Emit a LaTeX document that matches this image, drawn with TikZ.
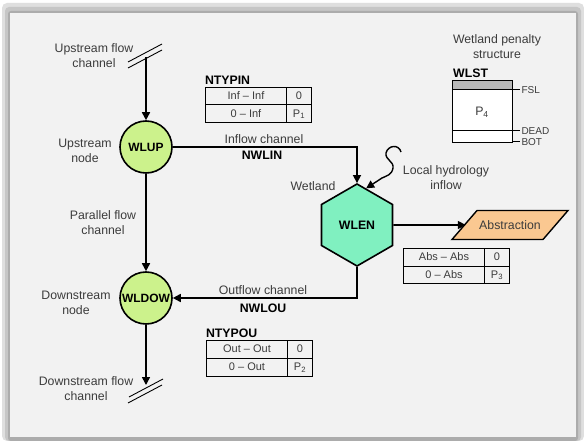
\documentclass[tikz,border=0pt]{standalone}
\usepackage{fontspec}
\setmainfont{Liberation Sans}
\usepackage{array}
\usetikzlibrary{arrows.meta,shapes.geometric}

\definecolor{nodegreen}{RGB}{204,242,140}
\definecolor{wetgreen}{RGB}{128,240,192}
\definecolor{absorange}{RGB}{250,200,145}
\definecolor{panelgray}{RGB}{242,242,242}
\definecolor{txtgray}{RGB}{60,60,60}

\newcommand{\pentab}[4]{\renewcommand{\arraystretch}{1.3}\setlength{\arrayrulewidth}{1pt}%
  \begin{tabular}{|>{\color{txtgray}}wc{68pt}|>{\color{txtgray}}wc{12pt}|}\hline #1 & #2\\\hline #3 & #4\\\hline\end{tabular}}

\begin{document}
\begin{tikzpicture}[x=1pt,y=-1pt,>={Triangle[length=8pt,width=8pt]},
  font=\fontsize{12.3}{15}\selectfont,
  txt/.style={text=txtgray,align=center,inner sep=0pt},
  lbl/.style={font=\fontsize{12.3}{15}\selectfont\bfseries,inner sep=0pt},
  flow/.style={line width=1.6pt},
  jn/.style={circle,draw,line width=1.6pt,fill=nodegreen,minimum size=52pt,inner sep=0pt,font=\fontsize{12}{15}\selectfont\bfseries},
  tbl/.style={inner sep=0pt,font=\fontsize{11}{13}\selectfont},
  sm/.style={text=txtgray,inner sep=1pt,anchor=west,font=\fontsize{10}{11}\selectfont}]
  \useasboundingbox (0,0) rectangle (584,441);
  % frame with shadow
  \fill[white] (0,0) rectangle (584,441);
  \fill[gray!25,rounded corners=5pt] (2,3) rectangle (584,441);
  \fill[gray!45,rounded corners=4pt] (5,7) rectangle (581,441);
  \fill[gray!65,rounded corners=3pt] (8,11) rectangle (578,441);
  \fill[panelgray] (10,13) rectangle (576,437);

  \node[jn] (wlup) at (146,147) {WLUP};
  \node[jn] (wldow) at (146,298) {WLDOW};
  \node[regular polygon,regular polygon sides=6,shape border rotate=30,minimum size=82pt,inner sep=0pt,
    draw,line width=1.6pt,fill=wetgreen,font=\fontsize{12.3}{15}\selectfont\bfseries] (wlen) at (357,225) {WLEN};
  \filldraw[line width=1.4pt,fill=absorange] (452,239.5) -- (477,210.5) -- (568,210.5) -- (543,239.5) -- cycle;
  \node[text=txtgray,minimum width=88pt,minimum height=29pt,inner sep=0pt] (abs) at (510,225) {Abstraction};

  \coordinate (upin) at (146,57);
  \coordinate (dnout) at (146,385);
  \coordinate (lh) at (401,152);

  \draw[flow,->] (upin) -- (wlup);
  \draw[flow,->] (wlup) -- (wldow);
  \draw[flow,->] (wldow) -- (dnout);
  \draw[flow,->] (wlup) -| (wlen);
  \draw[flow,->] (wlen) |- (wldow);
  \draw[flow,->] (wlen) -- (abs);
  \draw[line width=1.4pt,->] (lh) .. controls (399,144) and (388,145) .. (386,153)
    .. controls (385,160) and (394,161) .. (393,168) .. controls (392,175) and (386,176) .. (382,178) -- (wlen.76);

  \draw[line width=0.9pt] (128,62) -- (162,44) (128,68) -- (162,50);
  \draw[line width=0.9pt] (129,397) -- (163,379) (128,403) -- (162,385);

  \node[txt] at (94,56) {Upstream flow\\channel};
  \node[txt] at (85,150.5) {Upstream\\node};
  \node[txt] at (103,222.5) {Parallel flow\\channel};
  \node[txt] at (76,302.5) {Downstream\\node};
  \node[txt] at (86,389) {Downstream flow\\channel};
  \node[txt] at (264,139) {Inflow channel};
  \node[lbl] at (262,155) {NWLIN};
  \node[txt] at (263,290) {Outflow channel};
  \node[lbl] at (263,308) {NWLOU};
  \node[txt] at (313,186) {Wetland};
  \node[txt] at (446,177.5) {Local hydrology\\inflow};

  \node[tbl] (tin) at (258.5,105) {\pentab{Inf -- Inf}{0}{0 -- Inf}{P\textsubscript{1}}};
  \node[lbl,anchor=south west] (ntypin) at ([yshift=2pt]tin.north west) {NTYPIN};
  \node[tbl] (tou) at (259.5,358.5) {\pentab{Out -- Out}{0}{0 -- Out}{P\textsubscript{2}}};
  \node[lbl,anchor=south west] (ntypou) at ([yshift=2pt]tou.north west) {NTYPOU};
  \node[tbl] (tab) at (456.5,266) {\pentab{Abs -- Abs}{0}{0 -- Abs}{P\textsubscript{3}}};

  % wetland penalty structure
  \node[txt] at (497,47) {Wetland penalty\\structure};
  \node[lbl,anchor=south west] (wlstl) at (453,78) {WLST};
  \node[inner sep=0pt,minimum width=59pt,minimum height=61pt,fill=white] (wlst) at (482.5,111.5) {};
  \fill[gray!55] (453,81) rectangle (512,90);
  \draw[line width=1.2pt] (wlst.north west) rectangle (wlst.south east);
  \draw[line width=1pt] (453,90) -- (520,90) node[sm] {FSL};
  \draw[line width=1pt] (453,131) -- (520,131) node[sm] {DEAD};
  \draw[line width=1pt] (512,142) -- (520,142) node[sm] {BOT};
  \node[txt] at (482,112) {P\textsubscript{4}};
\end{tikzpicture}
\end{document}
